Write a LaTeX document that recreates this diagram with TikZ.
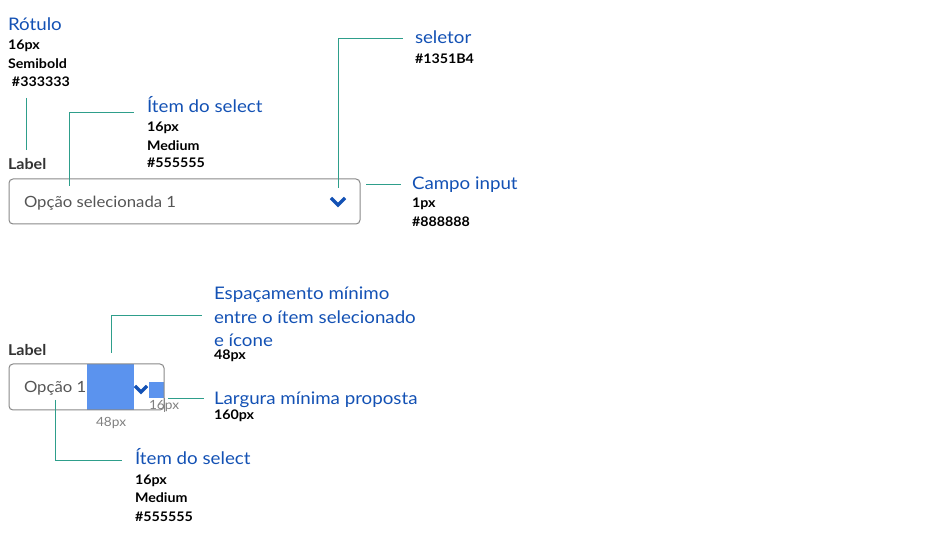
\documentclass[tikz,border=0pt]{standalone}
\usepackage{fontspec}
\setmainfont{Lato}[FakeStretch=1.08]
\definecolor{bluetxt}{HTML}{1351B4}
\definecolor{teal}{HTML}{2E9E8B}
\definecolor{boxgray}{HTML}{888888}
\definecolor{optgray}{HTML}{555555}
\definecolor{lblgray}{HTML}{333333}
\definecolor{fillblue}{HTML}{5B93EE}
\begin{document}
\begin{tikzpicture}[x=0.75pt,y=-0.75pt,
  every node/.style={inner sep=0pt,outer sep=0pt,anchor=base west},
  title/.style={font=\fontsize{13}{15}\selectfont,text=bluetxt},
  spec/.style={font=\fontsize{9.9}{11}\selectfont\bfseries,text=black},
  lbl/.style={font=\fontsize{11.2}{13}\selectfont\bfseries,text=lblgray},
  opt/.style={font=\fontsize{11.6}{13}\selectfont,text=optgray},
  dim/.style={font=\fontsize{9.5}{11}\selectfont,text=gray},
  leader/.style={draw=teal,line width=0.75pt},
  field/.style={draw=boxgray,line width=0.75pt,rounded corners=3pt},
  chev/.style={draw=bluetxt,line width=2.4pt,line cap=butt,line join=miter}]
\useasboundingbox (0,0) rectangle (951,538);

% ---------- top example ----------
\node[title] (rot) at (8,31) {Rótulo};
\node[spec] (rot1) at (8,50) {16px};
\node[spec] (rot2) at (8,69) {Semibold};
\node[spec] (rot3) at (12,87) {\#333333};
\coordinate (rotA) at (26,98);
\coordinate (rotB) at (26,150);
\draw[leader] (rotA) -- (rotB);

\node[lbl] (lab1) at (8,170) {Label};
\draw[field] (9,179) rectangle (360,224);
\node[opt] (opt1) at (24,208) {Opção selecionada 1};
\coordinate (c1a) at (331,198); \coordinate (c1b) at (338,205); \coordinate (c1c) at (345,198);
\draw[chev] (c1a) -- (c1b) -- (c1c);

\node[title] (item1) at (147,113) {Ítem do select};
\node[spec] (item1a) at (147,132) {16px};
\node[spec] (item1b) at (147,151) {Medium};
\node[spec] (item1c) at (147,168) {\#555555};
\coordinate (i1a) at (69,186); \coordinate (i1b) at (69,113); \coordinate (i1c) at (134,113);
\draw[leader] (i1a) -- (i1b) -- (i1c);

\node[title] (sel) at (415,44) {seletor};
\node[spec] (sela) at (415,64) {\#1351B4};
\coordinate (s1a) at (338,188); \coordinate (s1b) at (338,39); \coordinate (s1c) at (403,39);
\draw[leader] (s1a) -- (s1b) -- (s1c);

\node[title] (campo) at (412,190) {Campo input};
\node[spec] (campoa) at (412,208) {1px};
\node[spec] (campob) at (412,227) {\#888888};
\coordinate (cpa) at (366,185); \coordinate (cpb) at (401,185);
\draw[leader] (cpa) -- (cpb);

% ---------- bottom example ----------
\node[lbl] (lab2) at (8,356) {Label};
\fill[fillblue] (87,364) rectangle (134,410);
\fill[fillblue] (149,382) rectangle (164,398);
\draw[field] (9,364) rectangle (164,410);
\node[opt] (opt2) at (24,393) {Opção 1};
\coordinate (c2a) at (135,386); \coordinate (c2b) at (141,392); \coordinate (c2c) at (147,386);
\draw[chev] (c2a) -- (c2b) -- (c2c);
\node[dim] (d16) at (149,410) {16px};
\node[dim] (d48) at (96,427) {48px};
\draw[boxgray,line width=0.5pt] (164,398) -- (164,412);

\node[title] (esp1) at (214,300) {Espaçamento mínimo};
\node[title] (esp2) at (214,324) {entre o ítem selecionado};
\node[title] (esp3) at (214,347) {e ícone};
\node[spec] (esp4) at (214,360) {48px};
\coordinate (e1a) at (111,353); \coordinate (e1b) at (111,316); \coordinate (e1c) at (202,316);
\draw[leader] (e1a) -- (e1b) -- (e1c);

\node[title] (larg) at (214,405) {Largura mínima proposta};
\node[spec] (larga) at (214,420) {160px};
\coordinate (la) at (168,399); \coordinate (lb) at (204,399);
\draw[leader] (la) -- (lb);

\node[title] (item2) at (135,465) {Ítem do select};
\node[spec] (item2a) at (135,485) {16px};
\node[spec] (item2b) at (135,503) {Medium};
\node[spec] (item2c) at (135,522) {\#555555};
\coordinate (i2a) at (55,400); \coordinate (i2b) at (55,461); \coordinate (i2c) at (122,461);
\draw[leader] (i2a) -- (i2b) -- (i2c);
\end{tikzpicture}
\end{document}
